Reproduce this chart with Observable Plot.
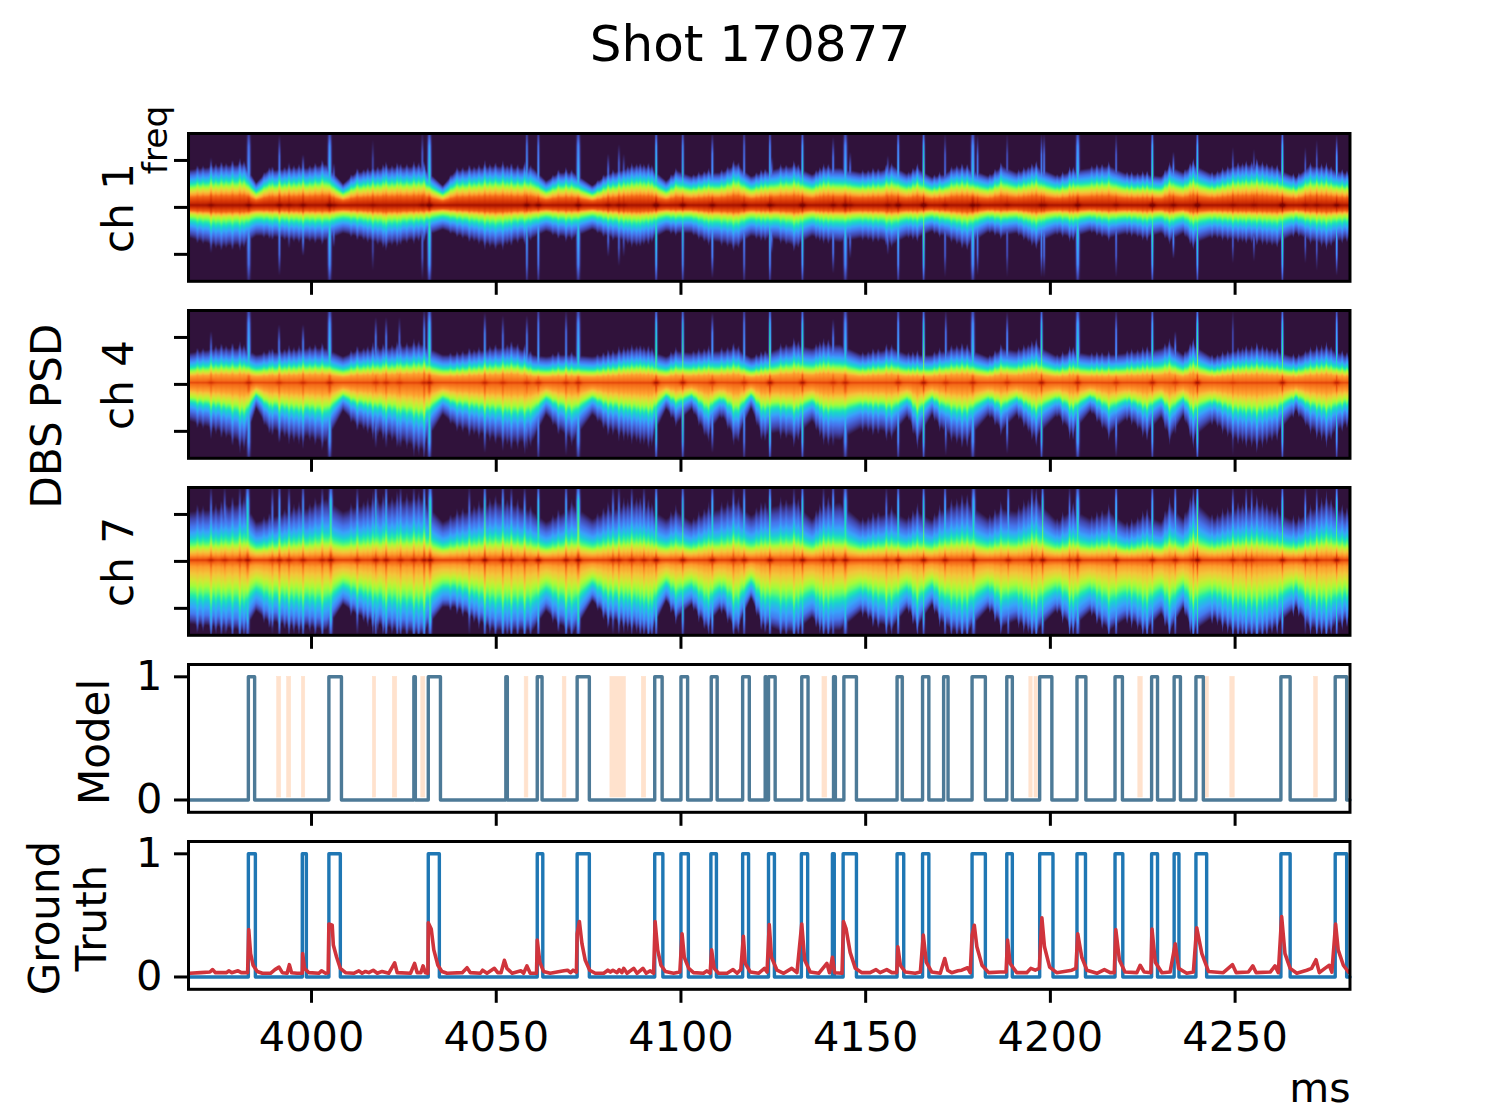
<!DOCTYPE html>
<html>
<head>
<meta charset="utf-8">
<script src="https://cdn.jsdelivr.net/npm/d3@7"></script>
<script src="https://cdn.jsdelivr.net/npm/@observablehq/plot@0.6"></script>
<style>
  body { margin: 0; background: #fff; }
  #fig { position: relative; width: 1500px; height: 1110px; overflow: hidden; font-family: "DejaVu Sans"; color: #000; }
  #fig svg { position: absolute; left: 0; }
  .lab { position: absolute; white-space: nowrap; line-height: 1; font-size: 42px; transform: translate(-50%, -50%); }
  .rot { transform: translate(-50%, -50%) rotate(-90deg); text-align: center; }
</style>
</head>
<body>
<div id="fig">
  <div class="lab" style="left:750px;top:44px;font-size:50px">Shot 170877</div>
  <div class="lab rot" style="left:155px;top:140px;font-size:34.5px">freq</div>
  <div class="lab rot" style="left:119px;top:208px">ch 1</div>
  <div class="lab rot" style="left:119px;top:385px">ch 4</div>
  <div class="lab rot" style="left:119px;top:562px">ch 7</div>
  <div class="lab rot" style="left:47px;top:416px">DBS PSD</div>
  <div class="lab rot" style="left:95px;top:742px">Model</div>
  <div class="lab rot" style="left:68px;top:918px;line-height:47px">Ground<br>Truth</div>
  <div class="lab" style="left:1320px;top:1088px;font-size:41px">ms</div>
</div>
<script>
// time range + ticks
const xDomain = [3966.7, 4281.1]
const xTicks = [4000, 4050, 4100, 4150, 4200, 4250]

// spectrogram colours (turbo)
const turboRamp = ["#30123b","#4145ab","#4675ed","#39a2fc","#1bcfd4","#24eca6","#61fc6c","#a4fc3b",
  "#d1e834","#f3c63a","#fe9b2d","#f36315","#d93806","#b11901","#7a0402"]

// width of the spectrum above / below the carrier at these times
const envTime = [3967,3975,3982,3985,3988,3996,3999,4004,4008.5,4012,4020,4030,4035.5,4039,4050,4055,4060,4063.5,4067,4071,4076,4080,4088,4092,4096,4099,4103,4107,4111,4115,4119,4122,4126.5,4131,4135.5,4139,4143,4149,4154,4157.5,4161.5,4164,4168,4171,4174,4177.5,4183.5,4187,4191,4196,4202,4206,4211,4216,4221,4226,4230,4232.5,4236,4238.5,4244,4250,4256,4261,4266.5,4270,4275,4281]

const ch1Upper = [38,42,44,24,37,40,40,44,23,35,40,42,21,37,42,40,40,26,35,35,21,33,42,40,26,37,31,35,35,44,31,35,40,42,33,40,40,35,37,42,33,40,30,33,40,40,31,42,35,42,31,37,40,42,33,33,31,42,35,44,33,42,44,40,30,42,40,33]
const ch1Lower = [35,44,42,33,33,37,37,38,30,33,42,35,26,31,44,38,35,28,33,35,26,33,42,37,28,30,30,38,40,44,33,35,37,44,33,37,40,35,37,42,33,35,28,33,38,44,28,33,30,42,30,35,28,35,30,35,30,38,30,42,33,37,38,42,30,38,42,35]
const ch4Upper = [32,37,37,30,32,35,37,37,28,34,37,41,30,30,37,39,30,28,30,30,28,30,37,34,28,34,32,34,34,37,27,30,37,41,37,41,41,30,34,37,30,30,30,34,37,37,27,37,34,41,28,34,30,30,32,34,37,41,30,41,27,34,37,34,27,34,37,28]
const ch4Lower = [41,51,66,27,48,59,57,64,30,44,55,71,34,46,59,64,62,34,50,62,34,48,59,62,28,43,28,57,34,62,27,57,53,59,41,59,62,48,51,55,35,62,34,51,59,62,34,51,34,59,34,55,30,55,37,55,37,59,35,60,41,59,64,57,30,48,59,41]
const ch7Upper = [52,55,62,41,44,55,55,66,52,57,62,66,41,48,62,59,52,41,48,59,44,52,62,55,44,52,41,52,55,62,48,55,59,62,44,59,62,41,48,52,43,52,43,55,59,62,44,55,52,66,41,55,44,52,37,48,41,59,44,66,44,55,59,52,41,52,62,48]
const ch7Lower = [68,71,75,54,64,71,70,75,47,57,71,79,50,50,75,75,75,54,68,77,43,61,71,77,43,61,47,71,50,75,40,68,75,77,61,75,75,54,68,71,50,71,47,68,75,77,50,71,64,77,52,73,54,75,61,75,57,75,50,77,61,75,79,71,50,71,75,61]

// how bright the band is at a fraction of that width (up then down)
const ch1ProfUpD = [0,.05,.22,.43,.62,.81,1]
const ch1ProfLowD = [0,.05,.16,.28,.5,.72,1]
const ch1ProfV = [.95,.89,.78,.55,.3,.15,0]
const ch4ProfUpD = [0,.04,.21,.37,.53,.74,1]
const ch4ProfLowD = [0,.03,.17,.38,.52,.72,1]
const ch4ProfV = [.84,.78,.71,.5,.3,.15,0]
const ch7ProfUpD = [0,.03,.1,.21,.31,.45,.65,1]
const ch7ProfLowD = [0,.02,.1,.3,.48,.62,.82,1]
const ch7ProfV = [.86,.79,.71,.58,.43,.28,.16,0]

// vertical streaks: time, strength, how far they reach from the carrier
const ch1SpikeTime = [3972.8,3983,3991.3,3993.9,3997.7,4004.9,4006,4016.6,4030,4031.9,4058.3,4061.4,4072.2,4080.3,4083.2,4084.5,4093.3,4100.5,4108.5,4117.1,4124.1,4124.6,4132.9,4141.2,4144.5,4145.8,4156,4158.8,4165.7,4171.5,4179,4180.3,4188.3,4197.6,4198.3,4207.4,4217.8,4227.6,4233.3,4239.8,4249.4,4255.1,4262.8,4269,4272.1,4277.5]
const ch1SpikeLevel = [.15,.22,.2,.12,.2,.3,.15,.1,.15,.35,.25,.25,.28,.15,.15,.12,.38,.3,.25,.2,.28,.15,.35,.2,.28,.15,.15,.3,.4,.15,.3,.18,.12,.2,.18,.3,.15,.38,.2,.35,.12,.12,.38,.12,.12,.25]
const ch1SpikeReach = [51,90,75,46,54,90,45,70,80,90,90,90,90,55,65,55,90,90,78,90,90,52,90,73,90,57,53,90,90,77,90,75,77,77,77,90,77,90,57,90,62,60,90,62,70,75]

const ch4SpikeTime = [3972.8,3983,3991.2,3997.7,4004.9,4017.4,4020.2,4023.8,4030.5,4031.9,4046.9,4051.8,4058.3,4061.4,4068.9,4072.2,4093.3,4100.5,4108.5,4117.1,4124.1,4132.9,4141.2,4144.5,4158.8,4165.7,4171.7,4179,4188.3,4197.6,4207.4,4217.8,4227.6,4233.8,4239.8,4249.4,4262.8,4277.5]
const ch4SpikeLevel = [.15,.3,.18,.2,.32,.2,.2,.15,.25,.4,.25,.18,.2,.25,.2,.3,.45,.4,.25,.25,.45,.42,.2,.3,.3,.42,.2,.3,.22,.4,.35,.22,.35,.18,.45,.1,.4,.3]
const ch4SpikeReach = [55,90,62,62,90,70,70,70,80,90,75,72,72,90,78,90,90,90,75,90,90,90,68,90,90,90,78,90,76,90,90,80,90,55,90,78,90,90]

const ch7SpikeTime = [3972.8,3976.5,3980.6,3982.7,3989.4,3991.3,3993.9,3997.7,4002.9,4005.2,4012.4,4017.4,4020.2,4024.1,4027.7,4030.5,4032.1,4042.7,4046.9,4051.8,4054.1,4057.7,4061.4,4068.9,4072.2,4081.6,4083.2,4086.7,4090,4093.3,4100.5,4108.5,4114.2,4117.1,4124.1,4130.6,4132.9,4138.6,4141.2,4144.5,4155.6,4158.8,4165.7,4171.5,4179.2,4188.6,4195,4197.9,4205.2,4207.4,4217.8,4227.6,4233.8,4238.7,4239.8,4249.4,4253,4254.5,4262.8,4269,4272.1,4277.5]
const ch7SpikeLevel = [.22,.2,.2,.42,.2,.32,.25,.3,.25,.45,.25,.35,.35,.25,.25,.38,.5,.2,.45,.35,.25,.3,.45,.35,.5,.25,.25,.25,.25,.45,.4,.4,.25,.35,.45,.2,.45,.2,.35,.4,.2,.4,.42,.35,.38,.3,.3,.45,.2,.38,.38,.35,.3,.22,.5,.25,.22,.2,.4,.25,.2,.42]
const ch7SpikeReach = [80,80,80,90,80,90,80,90,80,90,80,90,90,80,80,90,90,80,90,90,80,80,90,90,90,80,80,80,80,90,90,90,80,90,90,80,90,80,90,90,80,90,90,90,90,90,80,90,80,90,90,90,90,80,90,80,80,80,90,80,80,90]

// the big events have wider streaks in all three channels
const wideSpikes = [3983,4005,4032,4072,4144.5,4179,4207.4]

// small bursts that push the band edge out for a moment
const strandTime = [3969.1,3970.6,3972.8,3974.1,3975.6,3976.9,3978.6,3980.6,3981.7,3987.1,3988.6,3989.4,3991.3,3992.7,3993.9,3995.2,3996.6,3997.7,3999.5,4001,4002.9,4010.7,4012.4,4014.1,4015.2,4016.6,4017.9,4019.4,4020.2,4021.8,4023.2,4024.1,4025.8,4027.7,4029,4030.5,4037.6,4039.4,4040.9,4042.7,4044,4045.3,4046.9,4048.3,4049.8,4051.8,4053,4054.1,4055.8,4057.7,4059.3,4065.3,4066.8,4068.9,4070.4,4077.4,4079,4080.3,4081.6,4083.2,4084.5,4085.6,4086.7,4088,4089,4090,4091.2,4092.2,4097.3,4098.6,4103.4,4104.8,4106.3,4107.5,4111,4112.6,4114.2,4115.6,4120.4,4121.7,4122.8,4127,4128.5,4130.6,4131.8,4136.6,4137.6,4138.6,4139.9,4149.2,4150.7,4152,4153.4,4155.6,4157,4161.6,4162.8,4164,4168.6,4170,4173.2,4174.7,4176.1,4177.5,4183.6,4185,4186.6,4191.4,4192.8,4194,4195,4196.2,4201.9,4203.3,4205.2,4206.2,4211.2,4212.6,4214,4215.8,4220.8,4222,4223.6,4225,4226.2,4231,4232.2,4236.4,4237.8,4238.7,4243.8,4245.2,4246.6,4248,4249.4,4250.8,4252,4253,4254.5,4255.9,4257.4,4258.6,4260,4261.4,4265.8,4267.2,4269,4270.4,4272.1,4273.4,4274.7,4276,4279,4280.3]
const strandGain = [.3,.2,.55,.25,.35,.2,.4,.45,.25,.2,.3,.35,.6,.2,.4,.25,.3,.5,.2,.3,.4,.25,.4,.2,.3,.5,.25,.35,.5,.2,.4,.3,.25,.4,.3,.55,.2,.3,.25,.4,.2,.3,.55,.25,.3,.45,.2,.4,.3,.5,.25,.2,.35,.5,.3,.2,.3,.45,.3,.45,.35,.25,.35,.2,.3,.25,.4,.3,.25,.35,.2,.3,.25,.4,.3,.25,.45,.3,.25,.35,.3,.3,.2,.45,.3,.25,.3,.4,.35,.25,.2,.35,.25,.45,.3,.25,.3,.4,.25,.35,.3,.25,.4,.35,.25,.3,.4,.25,.3,.2,.35,.45,.2,.3,.45,.35,.2,.3,.25,.35,.25,.3,.2,.35,.4,.25,.4,.2,.3,.45,.25,.2,.3,.25,.4,.3,.2,.35,.25,.45,.3,.25,.2,.35,.3,.25,.2,.3,.4,.3,.45,.25,.3,.35,.3,.2]
// strength of those bursts per channel
const ch1Strand = 0.35, ch4Strand = 0.45, ch7Strand = 0.5

// model output: pulses
const modelRise = [3982.9,4004.7,4027.7,4031.6,4052.6,4061.1,4071.9,4092.9,4100,4108.2,4116.7,4122.8,4123.7,4132.7,4141.3,4144.1,4158.5,4165.4,4171.1,4178.8,4188.2,4197.1,4207.2,4217.5,4227.4,4233.5,4239.4,4262.4,4277.1]
const modelFall = [3984.6,4008.1,4028.1,4034.9,4053,4062.4,4075.2,4094.9,4101.8,4109.8,4118.5,4123.1,4125.5,4134.4,4141.8,4147.5,4159.9,4167.1,4172.3,4182.4,4189.7,4200.4,4209.6,4219.5,4229,4235.2,4241.4,4264.9,4280.2]

// shaded stretches in the model panel
const shadeStart = [3990.7,3993.4,3997.4,4016.6,4022,4029.7,4057.7,4068,4080.9,4089.4,4094.9,4138.3,4159.9,4194.3,4195.7,4209.6,4223.8,4241.9,4248.7,4271.4]
const shadeEnd = [3991.8,3994.5,3998.3,4017.5,4023.2,4030.8,4058.7,4069,4085.1,4090.6,4095.5,4139.6,4160.5,4195.2,4196.6,4210.1,4225,4242.9,4249.9,4272.4]

// ground truth pulses
const truthRise = [3982.9,3997.5,4004.7,4031.6,4061.1,4071.9,4092.9,4100,4108.1,4116.7,4123.7,4132.6,4141,4143.9,4158.5,4165.4,4178.8,4188.2,4197.1,4207.2,4217.5,4227.4,4233.5,4239.4,4262.4,4277.1]
const truthFall = [3984.8,3998.6,4007.8,4034.6,4062.6,4075.2,4095.1,4102,4109.6,4118.3,4125.3,4134.3,4141.5,4147.5,4160.3,4167.1,4182.4,4189.7,4200.7,4209.5,4219.6,4229,4234.8,4242.3,4264.9,4280.2]

// red signal
const signalTime = [3967,3970,3972.5,3973.2,3974,3977,3977.6,3978.4,3980.1,3981,3982.7,3983,3983.5,3984.2,3985.3,3986.7,3988.9,3990.1,3991.2,3992.1,3993.4,3994,3994.6,3996.1,3997.5,3997.6,3998.1,3999.3,4002,4002.7,4003.8,4004.5,4004.7,4005.6,4005.9,4006.8,4007.8,4009.2,4011.4,4012.8,4013.7,4014.6,4015.5,4016.7,4017.8,4019.1,4020.9,4022.5,4023.2,4026.8,4027.9,4028.6,4029.6,4030.2,4030.8,4031.5,4031.6,4032.4,4033.1,4034.2,4035.3,4036.7,4040.8,4042.1,4043,4045.7,4046.3,4047.5,4049.5,4050.4,4051.3,4052.2,4052.9,4054.3,4056.7,4057.4,4058.3,4059.2,4060.9,4061.1,4061.8,4062.8,4064.6,4068.3,4069.3,4070.1,4070.8,4071.7,4071.9,4072.5,4073.2,4074.1,4075.3,4076.8,4079.1,4080.2,4080.9,4081.6,4082.7,4083.3,4084,4084.5,4085.4,4087.2,4088.1,4089.7,4090.6,4091.7,4092.6,4093,4093.7,4094.6,4095.8,4098,4099.7,4100.3,4100.9,4102.1,4103.4,4106.1,4107,4107.9,4108.3,4109,4110.2,4112.5,4114.1,4115.2,4116.2,4116.9,4117.4,4118.8,4121,4122.6,4123.3,4123.9,4124.5,4126,4127.8,4130,4131.4,4132.7,4133.5,4135,4137.3,4139.5,4140.2,4141,4141.6,4143.6,4144,4144.7,4145.8,4147.2,4149,4151.2,4152.8,4153.9,4155.7,4157.1,4158.4,4158.7,4159.4,4160.7,4163.4,4164.8,4165.6,4166.4,4167.9,4170.2,4171.4,4172.2,4173.3,4175,4176,4177.6,4178.3,4178.8,4179.4,4180.1,4181.5,4183.3,4186.4,4188,4188.4,4189.1,4190.9,4193.6,4194.7,4195.9,4197,4197.7,4198.4,4199.8,4201.7,4205.8,4206.9,4207.4,4208.5,4209.9,4212.6,4214.6,4216.2,4217.3,4217.7,4218.7,4220.2,4223.4,4224.3,4225.4,4227.2,4227.5,4228.4,4230.2,4232.4,4233.8,4234.7,4236.9,4238.7,4239.6,4241,4242.8,4246.8,4249.3,4250.3,4253.6,4254.8,4255.7,4259.5,4260.8,4261.7,4262.6,4263.5,4264.9,4266.7,4269.4,4270.7,4271.9,4272.8,4274.3,4275.5,4276.2,4277.2,4277.9,4279.3,4280.7]
const signalValue = [.03,.035,.04,.06,.035,.035,.05,.035,.05,.035,.035,.385,.19,.095,.045,.03,.03,.06,.08,.035,.03,.1,.035,.03,.03,.19,.07,.035,.03,.05,.03,.035,.43,.42,.26,.16,.07,.035,.03,.05,.03,.045,.035,.055,.03,.045,.03,.115,.035,.03,.11,.035,.035,.09,.035,.03,.44,.39,.22,.095,.045,.03,.035,.075,.035,.03,.055,.03,.07,.035,.035,.135,.07,.03,.05,.03,.09,.03,.03,.3,.12,.045,.03,.05,.055,.035,.055,.04,.35,.45,.27,.135,.055,.03,.03,.055,.04,.055,.035,.06,.035,.07,.03,.07,.03,.07,.03,.05,.03,.45,.22,.095,.045,.03,.04,.35,.16,.07,.035,.03,.05,.03,.22,.07,.03,.03,.06,.03,.06,.33,.11,.04,.03,.07,.04,.425,.16,.055,.03,.07,.035,.43,.135,.04,.03,.11,.035,.16,.035,.03,.45,.39,.2,.07,.035,.035,.06,.035,.06,.035,.035,.245,.095,.04,.03,.04,.34,.12,.04,.03,.15,.055,.035,.05,.055,.075,.035,.34,.42,.245,.095,.035,.04,.04,.3,.11,.035,.035,.07,.055,.07,.48,.245,.08,.035,.055,.07,.35,.16,.055,.03,.06,.035,.035,.385,.135,.04,.035,.095,.04,.035,.39,.12,.035,.04,.27,.07,.03,.04,.4,.19,.045,.035,.1,.035,.04,.09,.035,.04,.09,.035,.49,.19,.07,.03,.055,.07,.14,.035,.07,.095,.04,.43,.22,.095,.04]

// ------------------------------------------------------------------

const fig = document.getElementById('fig')
const panelW = 1500, plotTop = 20, panelH = 147.8, panelStep = 177, firstTop = 133.3

const turbo = d3.piecewise(d3.interpolateRgb, turboRamp)

// builds the (time, freq) -> brightness sampler for Plot.raster from one channel's arrays
function spectrum(center, upper, lower, profUp, profLow, profV, spikeT, spikeL, spikeR, strand) {
  const upperAt = d3.scaleLinear(envTime, upper).clamp(true)
  const lowerAt = d3.scaleLinear(envTime, lower).clamp(true)
  const vUp = d3.scaleLinear(profUp, profV).clamp(true)
  const vLow = d3.scaleLinear(profLow, profV).clamp(true)
  let lastX = null, col = null
  return (x, y) => {
    if (x !== lastX) {
      lastX = x
      let push = 1
      strandTime.forEach((t, i) => {
        const dt = Math.abs(x - t)
        if (dt < 1) push = Math.max(push, 1 + strand * strandGain[i] * Math.exp(-((dt / 0.28) ** 2)))
      })
      col = {u: upperAt(x) * push, l: lowerAt(x) * push, s: []}
      spikeT.forEach((t, i) => {
        const w = wideSpikes.some(k => Math.abs(k - t) < 0.7) ? 0.42 : 0.26
        const dt = Math.abs(x - t)
        if (dt < 2.4) col.s.push({g: Math.exp(-((dt / w) ** 2)), hot: Math.exp(-((dt / 0.8) ** 2)), a: spikeL[i], r: spikeR[i]})
      })
    }
    const f = y - center, dist = Math.abs(f)
    const d = f > 0 ? dist / col.u : dist / col.l
    let v = f > 0 ? vUp(d) : vLow(d)
    let best = v
    for (const s of col.s) {
      // band gets hotter at a streak
      best = Math.max(best, v + s.g * s.a * 0.25 * Math.max(0, 1 - d))
      best = Math.max(best, v + s.hot * s.a * 0.3 * Math.max(0, 1 - dist / 5))
      // the streak itself, fading out towards its reach
      const fade = Math.min(1, Math.max(0, (s.r - dist) / (s.r * 0.3)))
      best = Math.max(best, s.g * s.a * (1.25 - 0.75 * dist / 78) * fade)
    }
    return Math.min(1, best)
  }
}

function place(chart, k) {
  chart.style.top = (firstTop + k * panelStep - plotTop) + 'px'
  fig.append(chart)
}

function spectroPanel(k, sampler) {
  const chart = Plot.plot({
    width: panelW,
    height: plotTop + panelH + 60,
    marginLeft: 188,
    marginRight: 150.5,
    marginTop: plotTop,
    marginBottom: 60,
    style: {background: 'transparent', overflow: 'visible', fontFamily: 'DejaVu Sans'},
    x: {domain: xDomain},
    y: {domain: [-78.7, 78.7]},
    color: {type: 'linear', domain: [0, 1], interpolate: turbo},
    marks: [
      Plot.raster({fill: sampler, x1: xDomain[0], x2: xDomain[1], y1: -78.7, y2: 78.7, width: 1162, height: 148, imageRendering: 'auto'}),
      Plot.frame({stroke: '#000', strokeWidth: 3}),
      Plot.axisX(xTicks, {tickSize: 14, strokeWidth: 3, tickFormat: () => '', label: null}),
      Plot.axisY([-50, 0, 50], {tickSize: 14, strokeWidth: 3, tickFormat: () => '', label: null})
    ]
  })
  place(chart, k)
}

function pulses(rise, fall) {
  const pts = [{t: xDomain[0], v: 0}]
  rise.forEach((r, i) => {
    pts.push({t: r, v: 0}, {t: r, v: 1}, {t: fall[i], v: 1}, {t: fall[i], v: 0})
  })
  pts.push({t: xDomain[1], v: 0})
  return pts
}

function linePanel(k, extra, last) {
  const chart = Plot.plot({
    width: panelW,
    height: plotTop + panelH + 60,
    marginLeft: 188,
    marginRight: 150.5,
    marginTop: plotTop,
    marginBottom: 60,
    style: {background: 'transparent', overflow: 'visible', fontFamily: 'DejaVu Sans'},
    x: {domain: xDomain},
    y: {domain: [-0.1, 1.1]},
    marks: [
      ...extra,
      Plot.frame({stroke: '#000', strokeWidth: 3}),
      Plot.axisX(xTicks, {tickSize: 14, strokeWidth: 3, fontSize: 41.5, tickPadding: 18, label: null,
        tickFormat: last ? d3.format('d') : () => ''}),
      Plot.axisY([0, 1], {tickSize: 14, strokeWidth: 3, fontSize: 41.5, tickPadding: 12, label: null, tickFormat: d3.format('d')})
    ]
  })
  place(chart, k)
}

spectroPanel(0, spectrum(2.3, ch1Upper, ch1Lower, ch1ProfUpD, ch1ProfLowD, ch1ProfV, ch1SpikeTime, ch1SpikeLevel, ch1SpikeReach, ch1Strand))
spectroPanel(1, spectrum(1.8, ch4Upper, ch4Lower, ch4ProfUpD, ch4ProfLowD, ch4ProfV, ch4SpikeTime, ch4SpikeLevel, ch4SpikeReach, ch4Strand))
spectroPanel(2, spectrum(1.2, ch7Upper, ch7Lower, ch7ProfUpD, ch7ProfLowD, ch7ProfV, ch7SpikeTime, ch7SpikeLevel, ch7SpikeReach, ch7Strand))

// model
linePanel(3, [
  Plot.rect(shadeStart.map((s, i) => ({s, e: shadeEnd[i]})), {x1: 's', x2: 'e', y1: 0.02, y2: 1, fill: '#ffe2cd', stroke: '#ffe2cd', strokeWidth: 0.6}),
  Plot.line(pulses(modelRise, modelFall), {x: 't', y: 'v', stroke: '#4d7a97', strokeWidth: 3.4, strokeLinejoin: 'round'})
], false)

// ground truth + signal
linePanel(4, [
  Plot.line(pulses(truthRise, truthFall), {x: 't', y: 'v', stroke: '#1f77b4', strokeWidth: 3.4, strokeLinejoin: 'round'}),
  Plot.line(signalTime.map((t, i) => ({t, v: signalValue[i]})), {x: 't', y: 'v', stroke: '#d0343c', strokeWidth: 3.6, strokeLinejoin: 'round'})
], true)
</script>
</body>
</html>
